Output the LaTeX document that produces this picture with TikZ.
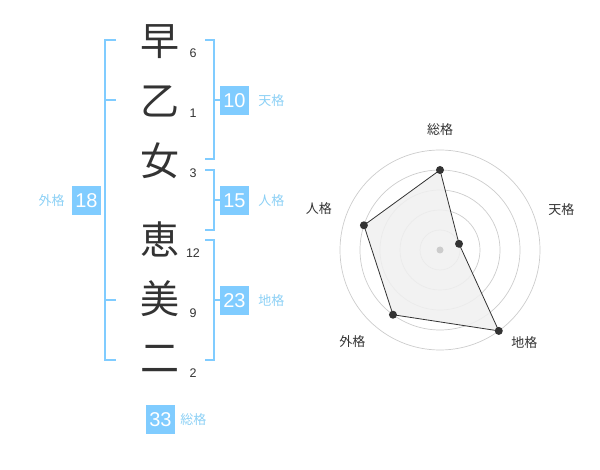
\documentclass[tikz,border=0pt]{standalone}
\usepackage{fontspec}
\setmainfont{Liberation Sans}
\newfontfamily\jpfont{Noto Sans CJK JP}
\usetikzlibrary{positioning}
\definecolor{kakublue}{RGB}{128,204,255}
\definecolor{kakutext}{RGB}{140,208,245}
\definecolor{inkgray}{RGB}{51,51,51}
\definecolor{ringgray}{RGB}{204,204,204}
\definecolor{fillgray}{RGB}{240,240,240}

\begin{document}
\begin{tikzpicture}[x=1pt, y=-1pt,
  kanji/.style={font=\jpfont\fontsize{39}{39}\selectfont, text=inkgray, inner sep=0pt},
  strokes/.style={font=\fontsize{12.5}{12.5}\selectfont, text=inkgray, inner sep=0pt},
  kakubox/.style={fill=kakublue, text=white, minimum size=29pt, inner sep=0pt, font=\fontsize{20}{20}\selectfont},
  kakuname/.style={font=\jpfont\fontsize{13}{13}\selectfont, text=kakutext, inner sep=0pt},
  bracket/.style={draw=kakublue, line width=2pt},
  axislabel/.style={font=\jpfont\fontsize{13}{13}\selectfont, text=inkgray, inner sep=0pt}]
  \useasboundingbox (0,0) rectangle (600,470);

  % name characters and stroke counts
  \node[kanji] (c1) at (160,42) {早};
  \node[kanji] (c2) at (160,101) {乙};
  \node[kanji] (c3) at (160,161) {女};
  \node[kanji] (c4) at (160,239) {恵};
  \node[kanji] (c5) at (160,299) {美};
  \node[kanji] (c6) at (160,359) {二};
  \node[strokes] (s1) at (193,53) {6};
  \node[strokes] (s2) at (193,113) {1};
  \node[strokes] (s3) at (193,173) {3};
  \node[strokes] (s4) at (193,253) {12};
  \node[strokes] (s5) at (193,313) {9};
  \node[strokes] (s6) at (193,373) {2};

  % boxes
  \node[kakubox] (ten) at (234.5,100.5) {10};
  \node[kakubox] (jin) at (234.5,200.5) {15};
  \node[kakubox] (chi) at (234.5,300.5) {23};
  \node[kakubox] (gai) at (86.5,200.5) {18};
  \node[kakubox] (sou) at (160.5,419.5) {33};
  \node[kakuname, right=9pt of ten] (tenlbl) {天格};
  \node[kakuname, right=9pt of jin] (jinlbl) {人格};
  \node[kakuname, right=9pt of chi] (chilbl) {地格};
  \node[kakuname, left=7pt of gai] (gailbl) {外格};
  \node[kakuname, right=5pt of sou] (soulbl) {総格};

  % brackets
  \draw[bracket] (116,40) -| (105,360) -- (116,360);
  \draw[bracket] (105,100) -- (116,100);
  \draw[bracket] (105,300) -- (116,300);
  \draw[bracket] (205,40) -| (214,159) -- (205,159);
  \draw[bracket] (214,100.5) -- (ten.west);
  \draw[bracket] (205,170) -| (214,230) -- (205,230);
  \draw[bracket] (214,200.5) -- (jin.west);
  \draw[bracket] (205,240) -| (214,360) -- (205,360);
  \draw[bracket] (214,300.5) -- (chi.west);

  % radar chart
  \begin{scope}[shift={(440,250)}, y=1pt]
    \foreach \r in {20,40,60,80,100}
      \draw[ringgray, line width=0.7pt] (0,0) circle (\r);
    \coordinate (psou) at (90:80);
    \coordinate (pten) at (18:20);
    \coordinate (pchi) at (-54:100);
    \coordinate (pgai) at (-126:80);
    \coordinate (pjin) at (162:80);
    \draw[fill=fillgray, fill opacity=0.85, draw=inkgray, line width=0.8pt]
      (psou) -- (pten) -- (pchi) -- (pgai) -- (pjin) -- cycle;
    \fill[ringgray] (0,0) circle (3.5);
    \foreach \p in {psou,pten,pchi,pgai,pjin}
      \fill[inkgray] (\p) circle (4);
    \node[axislabel] (asou) at (90:120) {総格};
    \node[axislabel] (aten) at (18.6:128) {天格};
    \node[axislabel] (achi) at (-47.6:125) {地格};
    \node[axislabel] (agai) at (-133.7:127) {外格};
    \node[axislabel] (ajin) at (161:128) {人格};
  \end{scope}
\end{tikzpicture}
\end{document}
